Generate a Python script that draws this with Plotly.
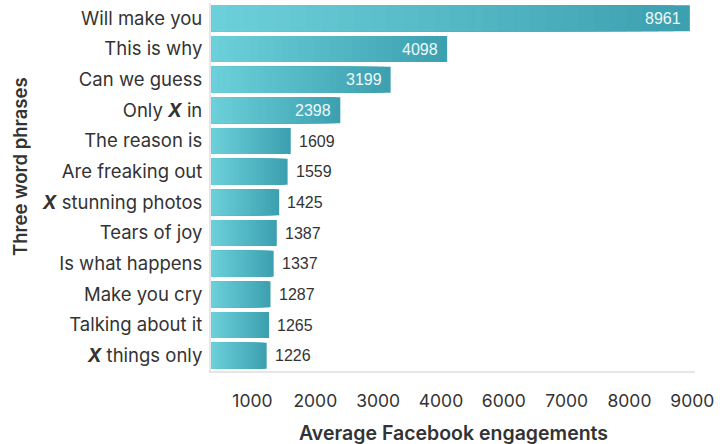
import plotly.graph_objects as go

# ---------------- data ----------------
phrases = [
    "Will make you", "This is why", "Can we guess", "Only <b><i>X</i></b> in",
    "The reason is", "Are freaking out", "<b><i>X</i></b> stunning photos",
    "Tears of joy", "Is what happens", "Make you cry", "Talking about it",
    "<b><i>X</i></b> things only",
]
engagements = [8961, 4098, 3199, 2398, 1609, 1559, 1425, 1387, 1337, 1287, 1265, 1226]
label_inside = [True, True, True, True, False, False, False, False, False, False, False, False]
ticks_low = [1000, 2000, 3000, 4000]
ticks_high = [6000, 7000, 8000, 9000]
x_title = "Average Facebook engagements"
y_title = "Three word phrases"

# ---------------- styling / axis setup ----------------
X_MIN = 340            # left end of the value axis (bars start here)
BREAK_LOW, BREAK_HIGH = 4500, 5500   # broken axis segment (5000 omitted)
X_MAX = 9043
GAP = BREAK_HIGH - BREAK_LOW
LIGHT = (108, 208, 218)
DARK = (61, 160, 176)
K = 30                 # gradient steps
LEFT, RIGHT, TOP, BOTTOM = 211, 25, 3, 73
W, H = 720, 444
plot_h = H - TOP - BOTTOM
span = (BREAK_LOW - X_MIN) + (X_MAX - BREAK_HIGH)
split = (BREAK_LOW - X_MIN) / span

LABEL_FONT = "Inter"
NUM_FONT = "Liberation Sans"
TEXT_COL = "#333333"


def to_display(v):
    return v - X_MIN if v <= BREAK_LOW else v - X_MIN - GAP


def from_display(d):
    e = X_MIN + d
    return e if e <= BREAK_LOW else e + GAP


def mix(t):
    c = [round(LIGHT[i] + (DARK[i] - LIGHT[i]) * t) for i in range(3)]
    return f"rgb({c[0]},{c[1]},{c[2]})"


fig = go.Figure()

for xa in ("x", "x2"):
    for k in range(K):
        frac = (K - k) / K
        fig.add_trace(go.Bar(
            y=phrases,
            x=[from_display(to_display(v) * frac) - X_MIN for v in engagements],
            base=X_MIN,
            orientation="h",
            marker=dict(color=mix(1 - k / (K - 1)), line=dict(width=0)),
            xaxis=xa, yaxis="y",
            showlegend=False, hoverinfo="skip",
        ))

annotations = []
for p, v, ins in zip(phrases, engagements, label_inside):
    xref = "x2" if v > BREAK_LOW else "x"
    annotations.append(dict(
        x=v, y=p, xref=xref, yref="y",
        text=str(v), showarrow=False,
        xanchor="right" if ins else "left",
        xshift=-7 if ins else 6,
        font=dict(family=NUM_FONT, size=16, color="#eef9fa" if ins else TEXT_COL),
    ))

# x-axis title (centred under the whole, broken axis)
annotations.append(dict(
    x=0.5, y=-(433 - (H - BOTTOM)) / plot_h,
    xref="paper", yref="paper", text=x_title, showarrow=False,
    xanchor="center", yanchor="middle",
    font=dict(family=LABEL_FONT, size=19.5, color=TEXT_COL, weight=600),
))
# y-axis title
annotations.append(dict(
    x=(20 - LEFT) / (W - LEFT - RIGHT), y=1 - (167 - TOP) / plot_h,
    xref="paper", yref="paper", text=y_title, showarrow=False, textangle=-90,
    xanchor="center", yanchor="middle",
    font=dict(family=LABEL_FONT, size=18.5, color=TEXT_COL, weight=600),
))

axis_common = dict(
    showgrid=False, zeroline=False, showline=True, linecolor="#e6e6e6",
    linewidth=2, ticks="", ticklabelstandoff=13,
    tickfont=dict(family=LABEL_FONT, size=17.5, color=TEXT_COL),
    anchor="y", fixedrange=True,
)

fig.update_layout(
    width=W, height=H,
    margin=dict(l=LEFT, r=RIGHT, t=TOP, b=BOTTOM),
    paper_bgcolor="white", plot_bgcolor="white",
    barmode="overlay", bargap=0.15,
    xaxis=dict(domain=[0, split], range=[X_MIN, BREAK_LOW],
               tickmode="array", tickvals=ticks_low,
               ticktext=[str(t) for t in ticks_low], **axis_common),
    xaxis2=dict(domain=[split, 1], range=[BREAK_HIGH, X_MAX],
                tickmode="array", tickvals=ticks_high,
                ticktext=[str(t) for t in ticks_high], **axis_common),
    yaxis=dict(
        type="category", autorange="reversed", anchor="x",
        showgrid=False, zeroline=False, showline=True, linecolor="#e6e6e6",
        linewidth=2, ticks="", ticklabelstandoff=3,
        tickfont=dict(family=LABEL_FONT, size=18.5, color=TEXT_COL),
        fixedrange=True,
    ),
    annotations=annotations,
    font=dict(family=LABEL_FONT, color=TEXT_COL),
)

fig.write_html("out.html")
